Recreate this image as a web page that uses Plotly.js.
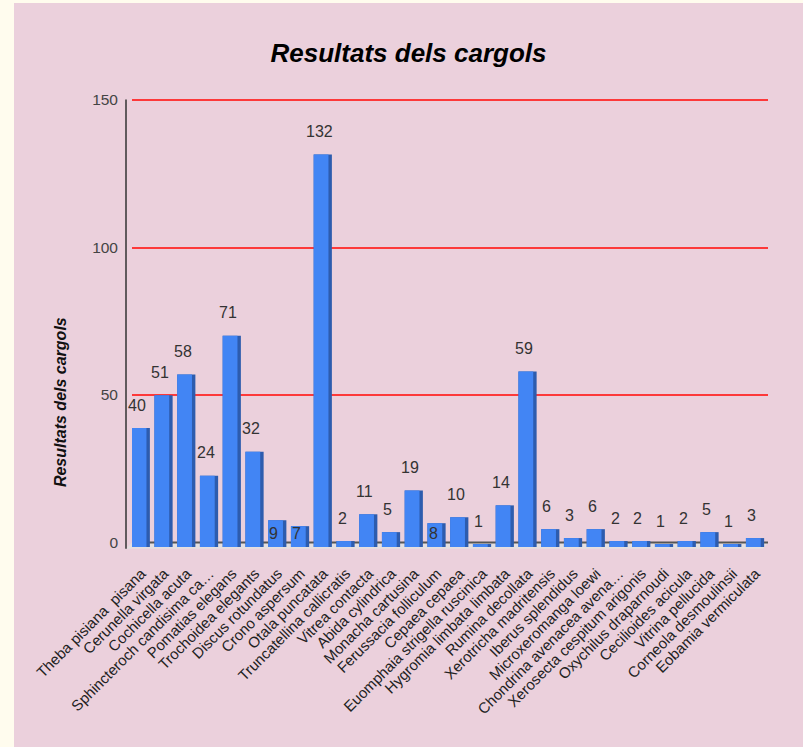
<!DOCTYPE html>
<html>
<head>
<meta charset="utf-8">
<script src="https://cdn.plot.ly/plotly-3.0.1.min.js"></script>
<style>
  html, body { margin: 0; padding: 0; background: #fffcee; width: 803px; height: 747px; overflow: hidden; }
  #chart { position: absolute; left: 14px; top: 3px; width: 789px; height: 744px; }
</style>
</head>
<body>
<div id="chart"></div>
<script>
const categories = [
  "Theba pisiana\u00a0 pisana", "Cerunella virgata", "Cochicella acuta", "Sphincteroch candisima ca…",
  "Pomatias elegans", "Trochoidea elegants", "Discus rotundatus", "Crono aspersum",
  "Otala puncatata", "Truncatellina callicratis", "Vitrea contacta", "Abida cylindrica",
  "Monacha cartusina", "Ferussacia folliculum", "Cepaea cepaea", "Euomphaia strigella ruscinica",
  "Hygromia limbata limbata", "Rumina decollata", "Xerotricha madritensis", "Iberus splendidus",
  "Microxeromanga loewi", "Chondrina avenacea avena…", "Xerosecta cespitum arigonis", "Oxychilus draparnoudi",
  "Cecilioides acicula", "Vitrina pellucida", "Corneola desmoulinsii", "Eobamia vermiculata"
];
const values = [40, 51, 58, 24, 71, 32, 9, 7, 132, 2, 11, 5, 19, 8, 10, 1, 14, 59, 6, 3, 6, 2, 2, 1, 2, 5, 1, 3];
const insideLabelCategories = ["Discus rotundatus", "Crono aspersum", "Ferussacia folliculum"];
const yTicks = [0, 50, 100, 150];
const chartTitle = "Resultats dels cargols";
const yTitle = "Resultats dels cargols";

const FONT = "Arial, 'Liberation Sans', sans-serif";

// back wall (gridlines) axis carrier – invisible points
const wall = {
  type: "scatter", mode: "markers", x: categories, y: values, yaxis: "y",
  marker: { opacity: 0, size: 1 }, hoverinfo: "skip", showlegend: false
};
const side = {
  type: "bar", x: categories, y: values, yaxis: "y2",
  width: 0.8, offset: -0.25,
  marker: { color: "#2d5cae", line: { width: 0 } },
  hoverinfo: "skip", showlegend: false
};
const front = {
  type: "bar", x: categories, y: values, yaxis: "y2",
  width: 0.65, offset: -0.25,
  marker: { color: "#4285f4", line: { width: 0 } },
  hoverinfo: "x+y", showlegend: false
};

const annotations = categories.map((c, i) => {
  const inside = insideLabelCategories.includes(c);
  return {
    x: c, y: inside ? 0 : values[i], xref: "x", yref: "y2",
    text: String(values[i]), showarrow: false,
    xanchor: "center", yanchor: "middle",
    yshift: inside ? 14 : 23,
    font: { family: FONT, size: 16, color: "#333333" }
  };
});
annotations.push({
  text: yTitle, textangle: -90, showarrow: false,
  xref: "paper", yref: "paper", x: -0.1132, y: 0.322,
  xanchor: "center", yanchor: "middle",
  font: { family: FONT, size: 16, color: "#111111", weight: "bold", style: "italic" }
});

const wallBottom = 0.00999;

const layout = {
  width: 789, height: 744,
  paper_bgcolor: "#ebd0dc", plot_bgcolor: "rgba(0,0,0,0)",
  margin: { l: 118, r: 35, t: 93.5, b: 200 },
  barmode: "overlay",
  title: {
    text: chartTitle, xref: "container", yref: "container",
    x: 0.5, y: 0.933, xanchor: "center", yanchor: "middle",
    font: { family: FONT, size: 26, color: "#000000", weight: "bold", style: "italic" }
  },
  xaxis: {
    type: "category", tickangle: -45, anchor: "y2",
    tickfont: { family: FONT, size: 15, color: "#222222" },
    showgrid: false, showline: false, ticks: "",
    ticklabelstandoff: 14, ticklabelshift: 4,
    range: [-0.236, 27.72]
  },
  yaxis: {
    domain: [wallBottom, 1], anchor: "x",
    range: [0, 151.02], tickvals: yTicks, ticktext: yTicks.map(String),
    tickfont: { family: FONT, size: 15.5, color: "#444444" },
    showgrid: true, gridcolor: "rgba(255,40,40,0.9)", gridwidth: 1.8,
    zeroline: false, showline: false, ticks: "", ticklabelstandoff: 13
  },
  yaxis2: {
    domain: [0, 1], anchor: "x",
    range: [0, 151.33],
    showgrid: false, zeroline: false, showline: false,
    showticklabels: false, ticks: ""
  },
  shapes: [
    {
      type: "path", xref: "paper", yref: "paper",
      path: "M -0.00943 -0.004 L 0 " + wallBottom + " L 1 " + wallBottom + " L 0.99214 -0.004 Z",
      fillcolor: "#e4dfe0", line: { width: 0 }, layer: "between"
    },
    {
      type: "line", xref: "paper", yref: "paper",
      x0: 0, x1: 1, y0: wallBottom, y1: wallBottom,
      line: { color: "#555555", width: 2 }, layer: "between"
    },
    {
      type: "line", xref: "paper", yref: "paper",
      x0: -0.00943, x1: -0.00943, y0: -0.004, y1: 0.9945,
      line: { color: "#333333", width: 1.5 }
    }
  ],
  annotations: annotations,
  font: { family: FONT }
};

Plotly.newPlot("chart", [wall, side, front], layout, { displayModeBar: false });
</script>
</body>
</html>
